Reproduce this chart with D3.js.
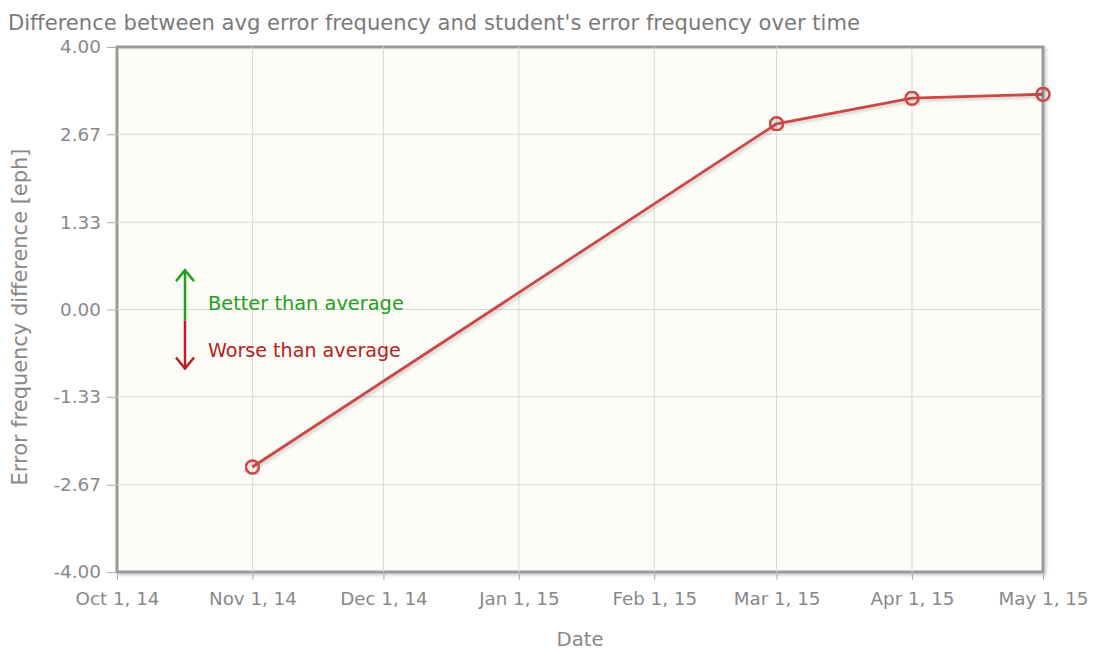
<!DOCTYPE html>
<html>
<head>
<meta charset="utf-8">
<script src="https://cdn.jsdelivr.net/npm/d3@7"></script>
<style>
  body { margin: 0; background: #fff; }
  text { font-family: "DejaVu Sans", Verdana, sans-serif; }
</style>
</head>
<body>
<div id="chart"></div>
<script>
// chart data
var dates = ["2014-11-01", "2015-03-01", "2015-04-01", "2015-05-01"];
var diffs = [-2.40, 2.83, 3.22, 3.28];
var yTicks = [-4.00, -2.67, -1.33, 0.00, 1.33, 2.67, 4.00];
var xTickDates = ["2014-10-01", "2014-11-01", "2014-12-01", "2015-01-01",
                  "2015-02-01", "2015-03-01", "2015-04-01", "2015-05-01"];

var width = 1097, height = 653;
var margin = {top: 47, right: 54, bottom: 81, left: 117};
var parse = d3.timeParse("%Y-%m-%d");
var fmt = d3.timeFormat("%b %-d, %y");
var numFmt = function(d) { return d3.format(".2f")(d).replace("\u2212", "-"); };

var svg = d3.select("#chart").append("svg")
    .attr("width", width)
    .attr("height", height);

var defs = svg.append("defs");
var shadow = defs.append("filter").attr("id", "shadow")
    .attr("x", "-5%").attr("y", "-5%").attr("width", "110%").attr("height", "110%");
shadow.append("feDropShadow")
    .attr("dx", 2).attr("dy", 2).attr("stdDeviation", 1.5)
    .attr("flood-color", "#000").attr("flood-opacity", 0.18);

// scale a text's font so it is about as wide as in the reference
function fit(sel, target, base) {
  var w = sel.node().getComputedTextLength();
  var size = (base * target / w).toFixed(2) + "px";
  return size;
}

var x = d3.scaleTime()
    .domain([parse(xTickDates[0]), parse(xTickDates[xTickDates.length - 1])])
    .range([margin.left, width - margin.right]);
var y = d3.scaleLinear()
    .domain([-4, 4])
    .range([height - margin.bottom, margin.top]);

// plot background + frame
svg.append("rect")
    .attr("x", margin.left).attr("y", margin.top)
    .attr("width", width - margin.left - margin.right)
    .attr("height", height - margin.top - margin.bottom)
    .attr("fill", "#fdfcf6")
    .attr("stroke", "#9a9a9a").attr("stroke-width", 3)
    .attr("filter", "url(#shadow)");

// grid
svg.append("g").selectAll("line.gy")
    .data(yTicks.slice(1, -1)).enter().append("line")
    .attr("x1", margin.left).attr("x2", width - margin.right)
    .attr("y1", function(d) { return y(d); })
    .attr("y2", function(d) { return y(d); })
    .attr("stroke", "#d9d9d9");
svg.append("g").selectAll("line.gx")
    .data(xTickDates.slice(1, -1)).enter().append("line")
    .attr("y1", margin.top).attr("y2", height - margin.bottom)
    .attr("x1", function(d) { return x(parse(d)); })
    .attr("x2", function(d) { return x(parse(d)); })
    .attr("stroke", "#d9d9d9");

// axes
var yAxis = svg.append("g")
    .attr("transform", "translate(" + (margin.left - 2) + ",0)")
    .call(d3.axisLeft(y).tickValues(yTicks).tickFormat(numFmt)
          .tickSize(8).tickPadding(6));
var xAxis = svg.append("g")
    .attr("transform", "translate(0," + (height - margin.bottom + 2) + ")")
    .call(d3.axisBottom(x).tickValues(xTickDates.map(parse)).tickFormat(fmt)
          .tickSize(6).tickPadding(12));
[yAxis, xAxis].forEach(function(a) {
  a.select(".domain").remove();
  a.selectAll(".tick line").attr("stroke", "#aaa");
  a.selectAll(".tick text").attr("fill", "#888").style("font-size", "15px");
});
var ySize = fit(yAxis.selectAll(".tick text").filter(function(d) { return d === 2.67; }), 41, 15);
yAxis.selectAll(".tick text").style("font-size", ySize);
var xSize = fit(xAxis.selectAll(".tick text").filter(function(d, i) { return i === 7; }), 90, 15);
xAxis.selectAll(".tick text").style("font-size", xSize);

// titles
var title = svg.append("text")
    .attr("x", 8).attr("y", 30)
    .attr("fill", "#7a7a7a")
    .style("font-size", "16px")
    .text("Difference between avg error frequency and student's error frequency over time");
title.style("font-size", fit(title, 852, 16));

var yTitle = svg.append("text")
    .attr("transform", "translate(27,317) rotate(-90)")
    .attr("text-anchor", "middle")
    .attr("fill", "#888")
    .style("font-size", "18px")
    .text("Error frequency difference [eph]");
yTitle.style("font-size", fit(yTitle, 337, 18));

var xTitle = svg.append("text")
    .attr("x", 580).attr("y", 646)
    .attr("text-anchor", "middle")
    .attr("fill", "#888")
    .style("font-size", "18px")
    .text("Date");
xTitle.style("font-size", fit(xTitle, 47, 18));

// annotation arrows
var ax = 185;
var green = "#1fa01f", red = "#b52020";
var yTop = y(0.6), yMid = y(-0.17), yBot = y(-0.9);
svg.append("line").attr("x1", ax).attr("x2", ax)
    .attr("y1", yTop).attr("y2", yMid)
    .attr("stroke", green).attr("stroke-width", 2.5);
svg.append("path")
    .attr("d", "M" + (ax - 9) + "," + (yTop + 11) + " L" + ax + "," + yTop + " L" + (ax + 9) + "," + (yTop + 11))
    .attr("fill", "none").attr("stroke", green).attr("stroke-width", 2.5);
svg.append("line").attr("x1", ax).attr("x2", ax)
    .attr("y1", yMid).attr("y2", yBot)
    .attr("stroke", red).attr("stroke-width", 2.5);
svg.append("path")
    .attr("d", "M" + (ax - 9) + "," + (yBot - 11) + " L" + ax + "," + yBot + " L" + (ax + 9) + "," + (yBot - 11))
    .attr("fill", "none").attr("stroke", red).attr("stroke-width", 2.5);
var better = svg.append("text").attr("x", 208).attr("y", y(0.0))
    .attr("fill", green).style("font-size", "16px")
    .text("Better than average");
better.style("font-size", fit(better, 196, 16));
var worse = svg.append("text").attr("x", 208).attr("y", y(-0.73))
    .attr("fill", red).style("font-size", "16px")
    .text("Worse than average");
worse.style("font-size", fit(worse, 193, 16));

// series
var pts = dates.map(function(d, i) { return {date: parse(d), value: diffs[i]}; });
var line = d3.line()
    .x(function(d) { return x(d.date); })
    .y(function(d) { return y(d.value); });
var lineColor = "#c94848";

svg.append("path").datum(pts)
    .attr("d", line)
    .attr("fill", "none")
    .attr("stroke", lineColor).attr("stroke-width", 2.8)
    .attr("filter", "url(#shadow)");

svg.append("g").selectAll("circle")
    .data(pts).enter().append("circle")
    .attr("cx", function(d) { return x(d.date); })
    .attr("cy", function(d) { return y(d.value); })
    .attr("r", 6.5)
    .attr("fill", "none")
    .attr("stroke", lineColor).attr("stroke-width", 2.5)
    .attr("filter", "url(#shadow)");
</script>
</body>
</html>
